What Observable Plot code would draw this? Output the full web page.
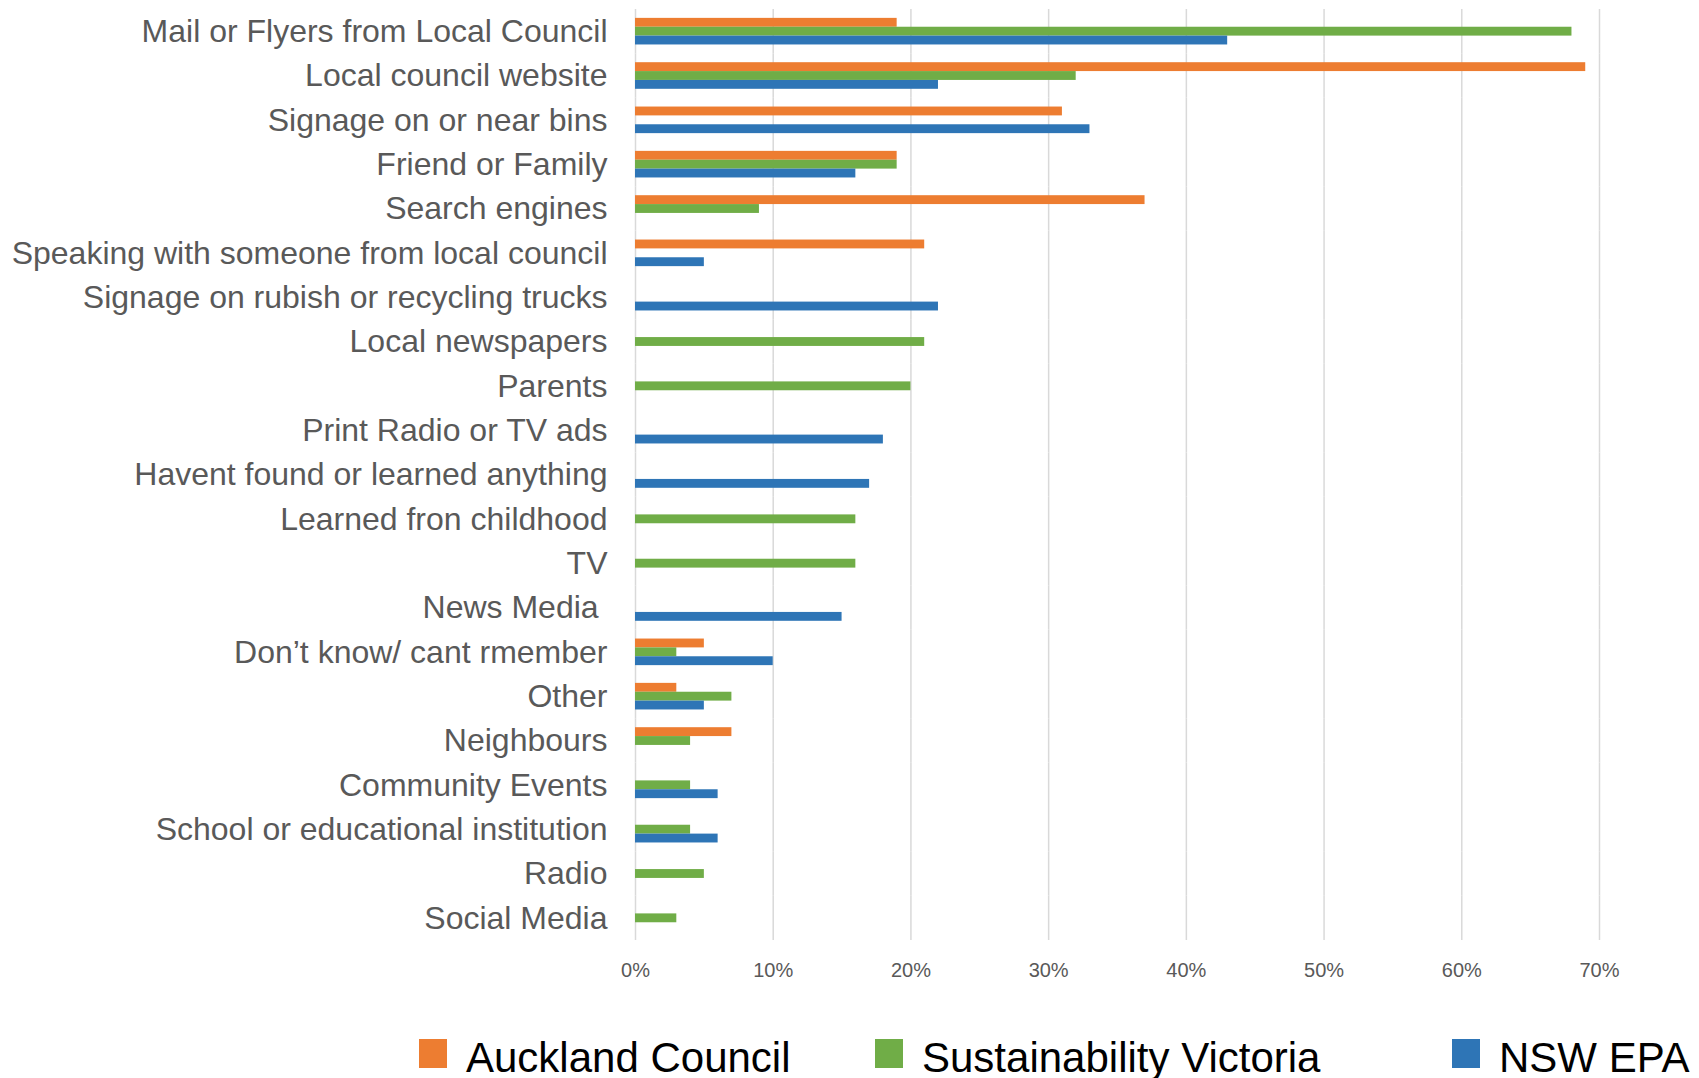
<!DOCTYPE html>
<html>
<head>
<meta charset="utf-8">
<script src="https://cdn.jsdelivr.net/npm/d3@7"></script>
<script src="https://cdn.jsdelivr.net/npm/@observablehq/plot@0.6"></script>
<style>
  html, body { margin: 0; padding: 0; background: #fff; }
  body { width: 1699px; height: 1078px; overflow: hidden; position: relative; font-family: "Liberation Sans", Arial, sans-serif; }
  #chart { position: absolute; left: 0; top: 0; }
  .legend-item { position: absolute; top: 1037px; height: 42px; display: flex; align-items: center; }
  .legend-swatch { position: absolute; top: 2px; width: 28px; height: 29px; }
  .legend-text { position: absolute; white-space: nowrap; font-size: 42px; line-height: 42px; color: #000; top: 0; }
</style>
</head>
<body>
<div id="chart"></div>
<div id="legend"></div>
<script>
const categories = [
  "Mail or Flyers from Local Council",
  "Local council website",
  "Signage on or near bins",
  "Friend or Family",
  "Search engines",
  "Speaking with someone from local council",
  "Signage on rubish or recycling trucks",
  "Local newspapers",
  "Parents",
  "Print Radio or TV ads",
  "Havent found or learned anything",
  "Learned fron childhood",
  "TV",
  "News Media ",
  "Don’t know/ cant rmember",
  "Other",
  "Neighbours",
  "Community Events",
  "School or educational institution",
  "Radio",
  "Social Media"
];
const seriesNames = ["Auckland Council", "Sustainability Victoria", "NSW EPA"];
const seriesColors = ["#ED7D31", "#70AD47", "#2E75B6"];
const aucklandCouncil       = [19, 69, 31, 19, 37, 21, null, null, null, null, null, null, null, null, 5, 3, 7, null, null, null, null];
const sustainabilityVictoria = [68, 32, null, 19, 9, null, null, 21, 20, null, null, 16, 16, null, 3, 7, 4, 4, 4, 5, 3];
const nswEPA                = [43, 22, 33, 16, null, 5, 22, null, null, 18, 17, null, null, 15, 10, 5, null, 6, 6, null, null];
const xTicks = [0, 10, 20, 30, 40, 50, 60, 70];

const seriesValues = [aucklandCouncil, sustainabilityVictoria, nswEPA];
const rows = [];
categories.forEach((c, i) => {
  seriesNames.forEach((s, j) => {
    const v = seriesValues[j][i];
    if (v != null) rows.push({category: c, series: s, value: v});
  });
});

const chart = Plot.plot({
  width: 1699,
  height: 1000,
  marginLeft: 635,
  marginRight: 100,
  marginTop: 9,
  marginBottom: 60,
  style: {fontFamily: "'Liberation Sans', Arial, sans-serif", background: "#fff"},
  x: {domain: [0, 70], label: null},
  fy: {domain: categories, padding: 0, round: false, label: null},
  y: {domain: seriesNames, axis: null, paddingInner: 0, paddingOuter: 1, round: false},
  color: {domain: seriesNames, range: seriesColors},
  marks: [
    Plot.gridX(xTicks, {stroke: "#d9d9d9", strokeOpacity: 1, strokeWidth: 1.5}),
    Plot.barX(rows, {x: "value", y: "series", fy: "category", fill: "series"}),
    Plot.axisX({
      ticks: xTicks,
      tickFormat: d => d + "%",
      tickSize: 0,
      tickPadding: 22,
      fontSize: 20,
      fill: "#595959",
      label: null
    }),
    Plot.axisFy({
      anchor: "left",
      tickSize: 0,
      tickPadding: 28,
      fontSize: 32,
      fill: "#595959",
      label: null,
      tickFormat: d => d.replace(/ $/, "\u00a0")
    })
  ]
});
document.getElementById("chart").appendChild(chart);

const legendLeft = [419, 875, 1452];
const legend = document.getElementById("legend");
seriesNames.forEach((s, i) => {
  const item = document.createElement("div");
  item.className = "legend-item";
  item.style.left = legendLeft[i] + "px";
  const sw = document.createElement("div");
  sw.className = "legend-swatch";
  sw.style.background = seriesColors[i];
  sw.style.left = "0px";
  const tx = document.createElement("div");
  tx.className = "legend-text";
  tx.style.left = "47px";
  tx.textContent = s;
  item.appendChild(sw);
  item.appendChild(tx);
  legend.appendChild(item);
});
</script>
</body>
</html>
